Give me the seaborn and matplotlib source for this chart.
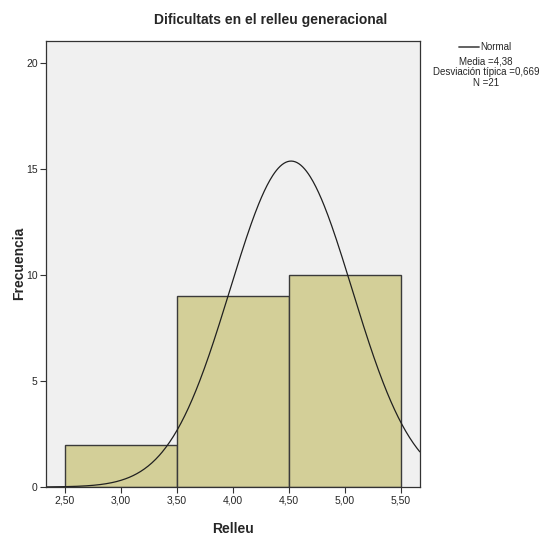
import numpy as np
import pandas as pd
import matplotlib
matplotlib.use("Agg")
import matplotlib.pyplot as plt
from matplotlib.lines import Line2D
import seaborn as sns

# ─── Data ─────────────────────────────────────────────────────────────────────
scores = [3, 4, 5]
counts = [2, 9, 10]
bin_edges = [2.5, 3.5, 4.5, 5.5]
x_ticks = [2.5, 3.0, 3.5, 4.0, 4.5, 5.0, 5.5]
x_tick_labels = ["2,50", "3,00", "3,50", "4,00", "4,50", "5,00", "5,50"]
y_ticks = [0, 5, 10, 15, 20]

# normal curve as drawn in the picture
curve_mean = 4.52
curve_sd = 0.545
n_total = 21
bin_width = 1.0

stats_lines = ["Media =4,38", "Desviación típica =0,669", "N =21"]

# ─── Plot ─────────────────────────────────────────────────────────────────────
sns.set_style("ticks")
plt.rcParams["font.family"] = ["Liberation Sans", "DejaVu Sans"]

df = pd.DataFrame({"Relleu": np.repeat(scores, counts)})

fig = plt.figure(figsize=(5.41, 5.39), dpi=100)
ax = fig.add_axes([0.085, 0.0965, 0.691, 0.828])
ax.set_facecolor("#f0f0f0")

sns.histplot(data=df, x="Relleu", bins=bin_edges, stat="count",
             color="#d3cf98", edgecolor="#3a3a3a", linewidth=1.0, alpha=1.0, ax=ax)

xs = np.linspace(2.33, 5.67, 400)
ys = n_total * bin_width / (curve_sd * np.sqrt(2 * np.pi)) * np.exp(-0.5 * ((xs - curve_mean) / curve_sd) ** 2)
sns.lineplot(x=xs, y=ys, color="#202020", linewidth=0.9, ax=ax)

ax.set_xlim(2.33, 5.67)
ax.set_ylim(0, 21.05)
ax.set_xticks(x_ticks)
ax.set_xticklabels(x_tick_labels)
ax.set_yticks(y_ticks)
ax.tick_params(axis="both", labelsize=7.5, length=4, width=0.8, color="#333333", direction="out", pad=2)
for s in ax.spines.values():
    s.set_color("#333333")
    s.set_linewidth(0.9)

ax.set_xlabel("Relleu", fontsize=10, fontweight="bold", labelpad=12)
ax.set_ylabel("Frecuencia", fontsize=10, fontweight="bold", labelpad=0)
fig.text(0.5, 0.962, "Dificultats en el relleu generacional", fontsize=10,
         fontweight="bold", ha="center", va="center")

# legend / stats box on the right
fig.lines.append(Line2D([0.848, 0.885], [0.913, 0.913], transform=fig.transFigure,
                        color="#555555", linewidth=1.3))
fig.text(0.887, 0.913, "Normal", fontsize=7, va="center", ha="left")
for i, line in enumerate(stats_lines):
    fig.text(0.898, 0.885 - i * 0.0195, line, fontsize=7, va="center", ha="center")

plt.savefig("out.png", dpi=100)
plt.close()
